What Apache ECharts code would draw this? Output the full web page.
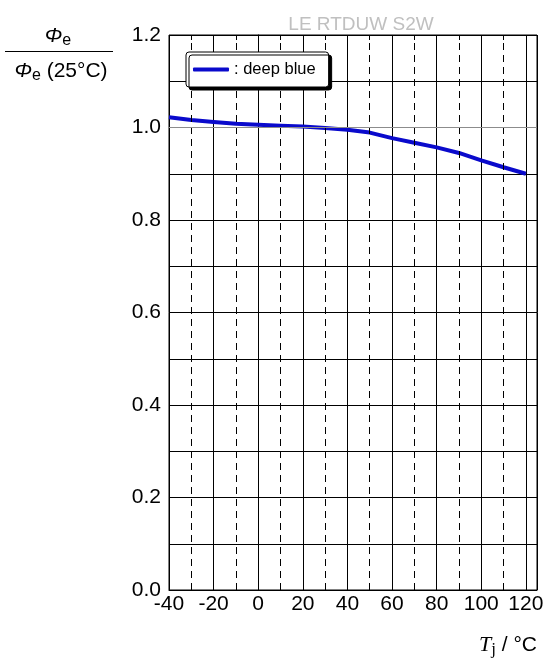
<!DOCTYPE html>
<html>
<head>
<meta charset="utf-8">
<script src="https://cdn.jsdelivr.net/npm/echarts@6/dist/echarts.min.js"></script>
<style>html,body{margin:0;padding:0;background:#fff;}#c{width:547px;height:659px;}</style>
</head>
<body>
<div id="c"></div>
<script>
// Data
const temps = [-40, -30, -20, -10, 0, 10, 20, 30, 40, 50, 60, 70, 80, 90, 100, 110, 120];
const values = [1.022, 1.016, 1.012, 1.008, 1.006, 1.004, 1.002, 0.999, 0.995, 0.989, 0.977, 0.967, 0.957, 0.945, 0.929, 0.914, 0.900];
const dashedX = [-30, -10, 10, 30, 50, 70, 90, 110];
const refY = [1.0];
const seriesName = 'deep blue';
const chartTitle = 'LE RTDUW S2W';

const chart = echarts.init(document.getElementById('c'));
const FONT = 'Liberation Sans, Arial, Helvetica, sans-serif';
const SERIF = 'Liberation Serif, Times New Roman, serif';

chart.setOption({
  animation: false,
  backgroundColor: '#fff',
  title: {
    text: chartTitle,
    left: 356, top: 10, textAlign: 'center',
    textStyle: { color: '#c0c0c0', fontSize: 19, fontWeight: 'normal', fontFamily: FONT }
  },
  grid: {
    left: 169, right: 10, top: 35, bottom: 69,
    show: true, borderColor: '#000', borderWidth: 1, backgroundColor: 'transparent'
  },
  legend: {
    left: 186, top: 52, z: 20,
    data: [{ name: seriesName, icon: 'roundRect' }],
    formatter: ': {name}',
    itemWidth: 36, itemHeight: 4, itemGap: 8,
    padding: [9, 13, 9, 7],
    backgroundColor: '#fff',
    borderColor: '#000', borderWidth: 1, borderRadius: 3,
    shadowColor: '#000', shadowBlur: 0, shadowOffsetX: 3, shadowOffsetY: 3,
    textStyle: { color: '#000', fontSize: 16.5, fontFamily: FONT }
  },
  xAxis: [{
    type: 'value', min: -40, max: 125, interval: 20,
    axisLine: { show: true, lineStyle: { color: '#000', width: 1 } },
    axisTick: { show: false },
    axisLabel: {
      color: '#000', fontSize: 21, fontFamily: FONT, margin: 4,
      showMaxLabel: false,
      formatter: v => (Math.round(v) % 20 === 0 && v <= 120) ? String(v) : ''
    },
    splitLine: { show: true, lineStyle: { color: '#000', width: 1 } }
  }, {
    type: 'value', position: 'top', min: -40, max: 125, interval: 10,
    axisLine: { show: false },
    axisTick: { show: true, inside: true, length: 5, lineStyle: { color: '#000', width: 1 } },
    axisLabel: { show: false },
    splitLine: { show: false }
  }],
  yAxis: {
    type: 'value', min: 0, max: 1.2, interval: 0.1,
    axisLine: { show: true, lineStyle: { color: '#000', width: 1 } },
    axisTick: { show: false },
    axisLabel: {
      color: '#000', fontSize: 21, fontFamily: FONT, margin: 8,
      formatter: v => (Math.round(v * 10) % 2 === 0) ? v.toFixed(1) : ''
    },
    splitLine: { show: true, lineStyle: { color: '#000', width: 1 } }
  },
  series: [{
    name: seriesName,
    type: 'line',
    xAxisIndex: 0,
    data: temps.map((t, i) => [t, values[i]]),
    showSymbol: false,
    lineStyle: { color: '#0a0acc', width: 4 },
    itemStyle: { color: '#0a0acc' },
    z: 3,
    markLine: {
      silent: true,
      symbol: ['none', 'none'],
      label: { show: false },
      animation: false,
      data: dashedX.map(v => ({ xAxis: v, lineStyle: { color: '#000', width: 1, type: [7, 5] } }))
        .concat(refY.map(v => ({ yAxis: v, lineStyle: { color: '#8c8c8c', width: 1, type: 'solid' } })))
    }
  }],
  graphic: [
    {
      type: 'text', x: 58, y: 36,
      style: {
        text: '{i|Φ}{s|e}',
        align: 'center', verticalAlign: 'middle',
        rich: {
          i: { fontSize: 21, fontStyle: 'italic', fontFamily: FONT, fill: '#000' },
          s: { fontSize: 16, fontFamily: FONT, fill: '#000', padding: [9, 0, 0, 0] }
        }
      }
    },
    {
      type: 'line', shape: { x1: 5, y1: 51.5, x2: 113, y2: 51.5 },
      style: { stroke: '#000', lineWidth: 1 }
    },
    {
      type: 'text', x: 61, y: 71,
      style: {
        text: '{i|Φ}{s|e}{n| (25°C)}',
        align: 'center', verticalAlign: 'middle',
        rich: {
          i: { fontSize: 21, fontStyle: 'italic', fontFamily: FONT, fill: '#000' },
          s: { fontSize: 16, fontFamily: FONT, fill: '#000', padding: [9, 0, 0, 0] },
          n: { fontSize: 21, fontFamily: FONT, fill: '#000' }
        }
      }
    },
    {
      type: 'text', x: 537, y: 645,
      style: {
        text: '{i|T}{s|j}{n| / °C}',
        align: 'right', verticalAlign: 'middle',
        rich: {
          i: { fontSize: 22, fontStyle: 'italic', fontFamily: SERIF, fill: '#000' },
          s: { fontSize: 17, fontFamily: SERIF, fill: '#000', padding: [10, 0, 0, 0] },
          n: { fontSize: 21, fontFamily: FONT, fill: '#000' }
        }
      }
    }
  ]
});
</script>
</body>
</html>
